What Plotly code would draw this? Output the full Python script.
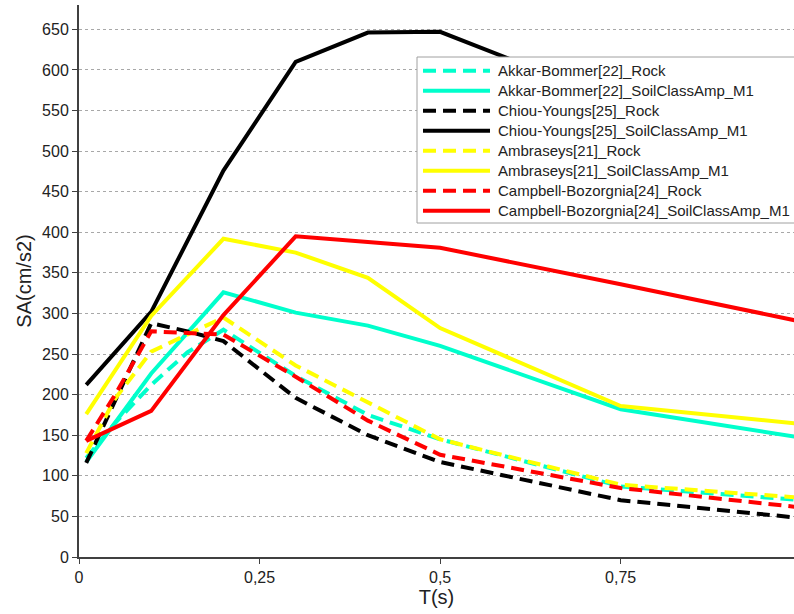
import plotly.graph_objects as go

# ---- data ----
T_soil = [0.01, 0.1, 0.2, 0.3, 0.4, 0.5, 0.75, 1.0]
T_rock = [0.01, 0.05, 0.1, 0.15, 0.2, 0.3, 0.4, 0.5, 0.75, 1.0]

akkar_rock = [122, 165, 212, 252, 280, 223, 175, 145, 87, 70]
akkar_soil = [117, 226, 326, 301, 285, 260, 182, 147]
chiou_rock = [116, 192, 288, 278, 266, 196, 150, 117, 70, 48]
chiou_soil = [212, 302, 476, 610, 646, 647, 560, 480]
ambr_rock = [128, 195, 253, 274, 295, 236, 190, 145, 89, 73]
ambr_soil = [176, 297, 392, 375, 344, 282, 186, 164]
camp_rock = [143, 200, 278, 276, 274, 222, 168, 126, 85, 61]
camp_soil = [143, 180, 298, 395, 388, 381, 336, 290]

names = [
    "Akkar-Bommer[22]_Rock",
    "Akkar-Bommer[22]_SoilClassAmp_M1",
    "Chiou-Youngs[25]_Rock",
    "Chiou-Youngs[25]_SoilClassAmp_M1",
    "Ambraseys[21]_Rock",
    "Ambraseys[21]_SoilClassAmp_M1",
    "Campbell-Bozorgnia[24]_Rock",
    "Campbell-Bozorgnia[24]_SoilClassAmp_M1",
]
colors = ["#00FFCC", "#00FFCC", "#000000", "#000000",
          "#FFFF00", "#FFFF00", "#FF0000", "#FF0000"]
xs = [T_rock, T_soil, T_rock, T_soil, T_rock, T_soil, T_rock, T_soil]
ys = [akkar_rock, akkar_soil, chiou_rock, chiou_soil,
      ambr_rock, ambr_soil, camp_rock, camp_soil]
dashes = ["13px,7px", "solid"] * 4

x_ticks = [0, 0.25, 0.5, 0.75]
x_ticktext = ["0", "0,25", "0,5", "0,75"]
y_ticks = list(range(0, 651, 50))

# ---- layout geometry ----
W, H = 794, 614
ML, MR, MT, MB = 79, 0, 5, 57


def px(x):
    return (x - ML) / (W - ML - MR)


def py(y):
    return (H - MB - y) / (H - MT - MB)


FONT = "Liberation Sans, Arial, sans-serif"

fig = go.Figure()
for x, y, n, c, d in zip(xs, ys, names, colors, dashes):
    fig.add_trace(go.Scatter(x=x, y=y, name=n, mode="lines",
                             line=dict(color=c, width=4, dash=d),
                             showlegend=False))

# custom legend (box, samples, labels)
shapes = [dict(type="rect", xref="paper", yref="paper",
               x0=px(417), x1=px(796), y0=py(223), y1=py(57),
               fillcolor="white", line=dict(color="#a0a0a0", width=1),
               layer="above")]
annotations = []
for i, (n, c, d) in enumerate(zip(names, colors, dashes)):
    yc = py(70.7 + 20 * i)
    shapes.append(dict(type="line", xref="paper", yref="paper",
                       x0=px(423), x1=px(490), y0=yc, y1=yc,
                       line=dict(color=c, width=4, dash=d), layer="above"))
    annotations.append(dict(xref="paper", yref="paper", x=px(496), y=yc,
                            text=n, showarrow=False, xanchor="left",
                            yanchor="middle",
                            font=dict(family=FONT, size=15, color="#222222")))

axis_common = dict(showline=True, linecolor="#404040", linewidth=2,
                   ticks="outside", ticklen=5, tickcolor="#404040",
                   tickwidth=1, zeroline=False,
                   tickfont=dict(family=FONT, size=16, color="#222222"))

fig.update_layout(
    width=W, height=H,
    margin=dict(l=ML, r=MR, t=MT, b=MB, pad=0),
    paper_bgcolor="white", plot_bgcolor="white",
    shapes=shapes, annotations=annotations,
    xaxis=dict(range=[0, 0.99], tickmode="array", tickvals=x_ticks,
               ticktext=x_ticktext, showgrid=False,
               title=dict(text="T(s)", standoff=4,
                          font=dict(family=FONT, size=20, color="#222222")),
               **axis_common),
    yaxis=dict(range=[0, 680], tickmode="array", tickvals=y_ticks,
               showgrid=True, gridcolor="#a8a8a8", griddash="dot",
               gridwidth=1,
               title=dict(text="SA(cm/s2)", standoff=5,
                          font=dict(family=FONT, size=20, color="#222222")),
               **axis_common),
)

fig.write_html("out.html")
